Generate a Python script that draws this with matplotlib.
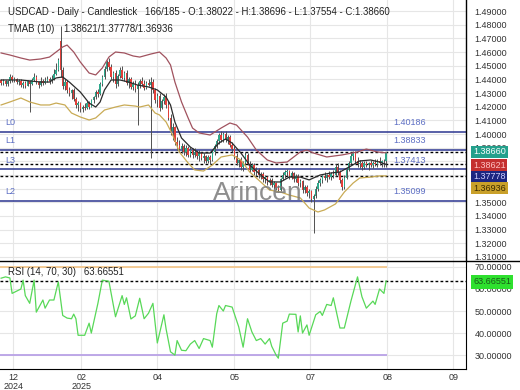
import numpy as np
import matplotlib.pyplot as plt
from matplotlib.lines import Line2D

plt.rcParams['font.family'] = ['Liberation Sans', 'DejaVu Sans']

# ---------------- data ----------------
o = [1.4395, 1.4372, 1.4390, 1.4368, 1.4385, 1.4418, 1.4395, 1.4405, 1.4378, 1.4392,
     1.4360, 1.4375, 1.4355, 1.4385, 1.4370, 1.4398, 1.4420, 1.4380, 1.4360, 1.4388,
     1.4372, 1.4390, 1.4405, 1.4385, 1.4400, 1.4440, 1.4470, 1.4680, 1.4470, 1.4350,
     1.4380, 1.4320, 1.4300, 1.4320, 1.4260, 1.4210, 1.4225, 1.4180, 1.4200, 1.4190,
     1.4230, 1.4200, 1.4250, 1.4270, 1.4310, 1.4290, 1.4370, 1.4415, 1.4480, 1.4530,
     1.4490, 1.4420, 1.4450, 1.4370, 1.4425, 1.4470, 1.4410, 1.4445, 1.4375, 1.4400,
     1.4345, 1.4370, 1.4330, 1.4360, 1.4385, 1.4370, 1.4340, 1.4375, 1.4360, 1.4380,
     1.4320, 1.4250, 1.4280, 1.4190, 1.4240, 1.4270, 1.4210, 1.4120, 1.4020, 1.4050,
     1.3940, 1.3920, 1.3890, 1.3910, 1.3870, 1.3900, 1.3850, 1.3880, 1.3845, 1.3870,
     1.3840, 1.3860, 1.3825, 1.3840, 1.3800, 1.3830, 1.3810, 1.3865, 1.3915, 1.3950,
     1.3990, 1.3960, 1.4000, 1.3955, 1.3975, 1.3920, 1.3890, 1.3840, 1.3790, 1.3810,
     1.3760, 1.3785, 1.3850, 1.3780, 1.3740, 1.3770, 1.3720, 1.3740, 1.3700, 1.3710,
     1.3670, 1.3685, 1.3650, 1.3665, 1.3630, 1.3640, 1.3605, 1.3590, 1.3670, 1.3700,
     1.3720, 1.3730, 1.3690, 1.3715, 1.3670, 1.3695, 1.3640, 1.3655, 1.3590, 1.3615,
     1.3565, 1.3580, 1.3525, 1.3545, 1.3600, 1.3645, 1.3660, 1.3690, 1.3680, 1.3700,
     1.3685, 1.3710, 1.3700, 1.3760, 1.3720, 1.3660, 1.3610, 1.3680, 1.3740, 1.3790,
     1.3840, 1.3860, 1.3800, 1.3780, 1.3790, 1.3760, 1.3785, 1.3770, 1.3785, 1.3775,
     1.3790, 1.3780, 1.3805, 1.3785, 1.3800, 1.38022]
h = [1.4405, 1.4402, 1.4398, 1.4395, 1.4440, 1.4430, 1.4418, 1.4412, 1.4405, 1.4400,
     1.4390, 1.4385, 1.4395, 1.4398, 1.4410, 1.4445, 1.4435, 1.4392, 1.4415, 1.4400,
     1.4418, 1.4425, 1.4415, 1.4430, 1.4475, 1.4520, 1.4560, 1.4793, 1.4490, 1.4400,
     1.4395, 1.4345, 1.4330, 1.4340, 1.4275, 1.4240, 1.4235, 1.4215, 1.4230, 1.4240,
     1.4245, 1.4260, 1.4280, 1.4320, 1.4330, 1.4380, 1.4430, 1.4500, 1.4545, 1.4555,
     1.4510, 1.4465, 1.4470, 1.4440, 1.4490, 1.4500, 1.4460, 1.4470, 1.4420, 1.4415,
     1.4390, 1.4395, 1.4380, 1.4400, 1.4420, 1.4395, 1.4390, 1.4405, 1.4415, 1.4400,
     1.4340, 1.4300, 1.4300, 1.4260, 1.4290, 1.4300, 1.4240, 1.4150, 1.4080, 1.4060,
     1.3975, 1.3960, 1.3935, 1.3930, 1.3920, 1.3915, 1.3905, 1.3895, 1.3900, 1.3885,
     1.3880, 1.3870, 1.3860, 1.3850, 1.3850, 1.3845, 1.3880, 1.3930, 1.3965, 1.4010,
     1.4021, 1.4015, 1.4020, 1.3990, 1.3990, 1.3945, 1.3910, 1.3860, 1.3820, 1.3830,
     1.3800, 1.3870, 1.3860, 1.3800, 1.3790, 1.3785, 1.3760, 1.3750, 1.3725, 1.3720,
     1.3700, 1.3695, 1.3680, 1.3675, 1.3655, 1.3650, 1.3625, 1.3680, 1.3720, 1.3740,
     1.3745, 1.3740, 1.3730, 1.3725, 1.3710, 1.3705, 1.3670, 1.3665, 1.3630, 1.3625,
     1.3600, 1.3590, 1.3560, 1.3620, 1.3660, 1.3680, 1.3700, 1.3720, 1.3710, 1.3730,
     1.3720, 1.3735, 1.3780, 1.3785, 1.3740, 1.3680, 1.3700, 1.3750, 1.3800, 1.3860,
     1.3874, 1.3875, 1.3830, 1.3810, 1.3805, 1.3800, 1.3800, 1.3795, 1.3810, 1.3800,
     1.3815, 1.3820, 1.3830, 1.3810, 1.3815, 1.38696]
l = [1.4360, 1.4362, 1.4355, 1.4350, 1.4375, 1.4380, 1.4378, 1.4365, 1.4360, 1.4345,
     1.4340, 1.4340, 1.4350, 1.4162, 1.4362, 1.4390, 1.4370, 1.4335, 1.4350, 1.4358,
     1.4365, 1.4378, 1.4370, 1.4375, 1.4395, 1.4430, 1.4460, 1.4420, 1.4330, 1.4320,
     1.4300, 1.4280, 1.4260, 1.4240, 1.4190, 1.4170, 1.4160, 1.4165, 1.4175, 1.4180,
     1.4185, 1.4195, 1.4225, 1.4255, 1.4270, 1.4285, 1.4350, 1.4400, 1.4460, 1.4470,
     1.4400, 1.4380, 1.4340, 1.4355, 1.4410, 1.4400, 1.4390, 1.4360, 1.4340, 1.4330,
     1.4320, 1.4310, 1.4066, 1.4340, 1.4350, 1.4320, 1.4330, 1.4350, 1.3825, 1.4300,
     1.4230, 1.4200, 1.4170, 1.4180, 1.4220, 1.4190, 1.4100, 1.3990, 1.3960, 1.3920,
     1.3880, 1.3870, 1.3860, 1.3850, 1.3840, 1.3830, 1.3835, 1.3825, 1.3830, 1.3820,
     1.3800, 1.3810, 1.3790, 1.3785, 1.3790, 1.3780, 1.3800, 1.3850, 1.3900, 1.3930,
     1.3940, 1.3945, 1.3940, 1.3930, 1.3905, 1.3870, 1.3820, 1.3770, 1.3760, 1.3740,
     1.3730, 1.3775, 1.3770, 1.3720, 1.3730, 1.3700, 1.3690, 1.3680, 1.3670, 1.3650,
     1.3640, 1.3630, 1.3625, 1.3610, 1.3600, 1.3590, 1.3575, 1.3585, 1.3660, 1.3680,
     1.3690, 1.3670, 1.3670, 1.3650, 1.3650, 1.3620, 1.3610, 1.3570, 1.3570, 1.3545,
     1.3530, 1.3505, 1.3275, 1.3530, 1.3585, 1.3620, 1.3640, 1.3660, 1.3650, 1.3670,
     1.3665, 1.3680, 1.3690, 1.3700, 1.3640, 1.3590, 1.3600, 1.3670, 1.3730, 1.3780,
     1.3810, 1.3790, 1.3760, 1.3750, 1.3740, 1.3745, 1.3755, 1.3740, 1.3760, 1.3750,
     1.3765, 1.3760, 1.3770, 1.3760, 1.3760, 1.37554]
c = [1.4372, 1.4390, 1.4368, 1.4385, 1.4418, 1.4395, 1.4405, 1.4378, 1.4392, 1.4360,
     1.4375, 1.4355, 1.4385, 1.4370, 1.4398, 1.4420, 1.4380, 1.4360, 1.4388, 1.4372,
     1.4390, 1.4405, 1.4385, 1.4400, 1.4440, 1.4470, 1.4540, 1.4470, 1.4350, 1.4380,
     1.4320, 1.4300, 1.4320, 1.4260, 1.4210, 1.4225, 1.4180, 1.4200, 1.4190, 1.4230,
     1.4200, 1.4250, 1.4270, 1.4310, 1.4290, 1.4370, 1.4415, 1.4480, 1.4530, 1.4490,
     1.4420, 1.4450, 1.4370, 1.4425, 1.4470, 1.4410, 1.4445, 1.4375, 1.4400, 1.4345,
     1.4370, 1.4330, 1.4360, 1.4385, 1.4370, 1.4340, 1.4375, 1.4360, 1.4380, 1.4320,
     1.4250, 1.4280, 1.4190, 1.4240, 1.4270, 1.4210, 1.4120, 1.4020, 1.4050, 1.3940,
     1.3920, 1.3890, 1.3910, 1.3870, 1.3900, 1.3850, 1.3880, 1.3845, 1.3870, 1.3840,
     1.3860, 1.3825, 1.3840, 1.3800, 1.3830, 1.3810, 1.3865, 1.3915, 1.3950, 1.3990,
     1.3960, 1.4000, 1.3955, 1.3975, 1.3920, 1.3890, 1.3840, 1.3790, 1.3810, 1.3760,
     1.3785, 1.3850, 1.3780, 1.3740, 1.3770, 1.3720, 1.3740, 1.3700, 1.3710, 1.3670,
     1.3685, 1.3650, 1.3665, 1.3630, 1.3640, 1.3605, 1.3590, 1.3670, 1.3700, 1.3720,
     1.3730, 1.3690, 1.3715, 1.3670, 1.3695, 1.3640, 1.3655, 1.3590, 1.3615, 1.3565,
     1.3580, 1.3525, 1.3545, 1.3600, 1.3645, 1.3660, 1.3690, 1.3680, 1.3700, 1.3685,
     1.3710, 1.3700, 1.3760, 1.3720, 1.3660, 1.3610, 1.3680, 1.3740, 1.3790, 1.3840,
     1.3860, 1.3800, 1.3780, 1.3790, 1.3760, 1.3785, 1.3770, 1.3785, 1.3775, 1.3790,
     1.3780, 1.3805, 1.3785, 1.3800, 1.3802, 1.38660]

# TMAB (10) bands
up_idx = [0, 4, 9, 13, 18, 22, 25, 28, 30, 33, 36, 40, 43, 46, 49, 52, 56, 60, 63, 68,
          72, 75, 77, 79, 82, 85, 87, 90, 95, 100, 104, 107, 112, 116, 121, 125, 130, 133,
          136, 139, 142, 148, 155, 162, 166, 171, 175]
up_val = [1.4594, 1.4579, 1.4557, 1.4542, 1.4550, 1.4564, 1.4601, 1.4638, 1.4652, 1.4601,
          1.4528, 1.4447, 1.4433, 1.4484, 1.4564, 1.4601, 1.4594, 1.4572, 1.4564, 1.4586,
          1.4601, 1.4557, 1.4506, 1.4381, 1.4235, 1.4118, 1.4044, 1.4008, 1.3993, 1.4044,
          1.4081, 1.4066, 1.3978, 1.3883, 1.3810, 1.3788, 1.3795, 1.3832, 1.3869, 1.3883,
          1.3861, 1.3832, 1.3847, 1.3869, 1.3890, 1.3869, 1.38621]
mid_idx = [0, 9, 18, 22, 25, 28, 31, 36, 40, 43, 45, 47, 50, 54, 58, 62, 67, 71, 75, 77,
           79, 82, 86, 88, 90, 95, 99, 102, 105, 109, 113, 118, 122, 127, 131, 136, 140,
           145, 150, 154, 159, 163, 168, 172, 175]
mid_val = [1.4396, 1.4396, 1.4381, 1.4381, 1.4411, 1.4418, 1.4381, 1.4308, 1.4227, 1.4198,
           1.4235, 1.4323, 1.4396, 1.4396, 1.4381, 1.4359, 1.4345, 1.4323, 1.4271, 1.4213,
           1.4088, 1.3971, 1.3905, 1.3883, 1.3861, 1.3861, 1.3934, 1.3964, 1.3934, 1.3861,
           1.3773, 1.3700, 1.3649, 1.3649, 1.3685, 1.3685, 1.3664, 1.3700, 1.3715, 1.3722,
           1.3766, 1.3803, 1.3810, 1.3795, 1.37778]
low_idx = [0, 4, 9, 13, 18, 22, 25, 29, 32, 36, 40, 43, 47, 52, 56, 61, 63, 67, 70, 72,
           75, 78, 81, 85, 88, 92, 96, 100, 105, 109, 113, 118, 122, 127, 131, 136, 140,
           144, 147, 152, 156, 160, 163, 168, 172, 175]
low_val = [1.4213, 1.4235, 1.4264, 1.4235, 1.4213, 1.4213, 1.4227, 1.4213, 1.4154, 1.4125,
           1.4103, 1.4118, 1.4176, 1.4198, 1.4213, 1.4205, 1.4198, 1.4213, 1.4154, 1.4140,
           1.4088, 1.3993, 1.3869, 1.3788, 1.3737, 1.3729, 1.3773, 1.3832, 1.3847, 1.3810,
           1.3722, 1.3649, 1.3590, 1.3575, 1.3553, 1.3532, 1.3458, 1.3429, 1.3444, 1.3488,
           1.3575, 1.3641, 1.3678, 1.3685, 1.3693, 1.36936]

# RSI (14)
rsi_idx = [0, 2, 4, 5, 9, 10, 11, 13, 15, 16, 19, 20, 22, 24, 26, 28, 30, 32, 33, 34,
           35, 38, 40, 41, 44, 46, 49, 52, 55, 56, 57, 59, 61, 63, 65, 67, 69, 71, 74, 75,
           77, 79, 80, 82, 84, 86, 88, 90, 92, 95, 96, 98, 99, 101, 102, 105, 108, 110, 112,
           114, 116, 118, 120, 122, 123, 125, 126, 128, 130, 131, 134, 135, 136, 137, 139,
           140, 143, 145, 146, 148, 150, 151, 154, 156, 159, 162, 164, 166, 169, 170, 172,
           174, 175]
rsi_val = [64.9, 65.5, 65, 58, 60, 64, 57, 53.5, 64, 49.5, 55, 51.3, 55, 55, 63.2, 48,
           46.8, 46.5, 48.6, 46.5, 39, 39, 44.5, 40, 53.5, 64, 63.5, 47.4, 57, 53, 56, 46.4,
           47.8, 55.8, 46.5, 49, 53.5, 35.5, 48.3, 41.8, 31.5, 30, 36.6, 32.2, 32, 35, 36.6,
           33, 37.5, 36.6, 33.6, 48.8, 52.5, 50, 52.5, 51.8, 42.8, 33.6, 46.5, 40.5, 36.6,
           37.5, 35, 37.5, 34, 30, 28.6, 44.5, 45.4, 48.6, 48.5, 40.5, 47.8, 40, 43.7, 39,
           48.3, 49.8, 48, 53, 52.5, 56, 42.3, 42.3, 54.5, 65.5, 56.5, 51.3, 54.5, 53, 60,
           58, 63.66551]

level_names = ['L0', 'L1', 'L3', 'L2']
level_vals = [1.40186, 1.38833, 1.37413, 1.35099]

price_ticks = [1.31, 1.32, 1.33, 1.34, 1.35, 1.39, 1.40, 1.41, 1.42, 1.43, 1.44,
               1.45, 1.46, 1.47, 1.48, 1.49]
grid_prices = [1.31, 1.32, 1.33, 1.34, 1.35, 1.36, 1.37, 1.38, 1.39, 1.40, 1.41,
               1.42, 1.43, 1.44, 1.45, 1.46, 1.47, 1.48, 1.49]
rsi_ticks = [30, 40, 50, 60, 70]

xtick_idx = [5.5, 36.5, 71, 106, 140.5, 175.5, 205.5]
xtick_lab = ['12\n2024', '02\n2025', '04', '05', '07', '08', '09']

# ---------------- figure ----------------
W, H = 520, 390
fig = plt.figure(figsize=(5.2, 3.9), dpi=100)
ax = fig.add_axes([0, 1 - 261 / H, 466 / W, 261 / H])
ax2 = fig.add_axes([0, 1 - 369 / H, 466 / W, 108 / H])

fs = 6.5
grid_c = '#e6e6e6'

o, h, l, c = map(np.asarray, (o, h, l, c))
x = np.arange(len(c))
green, red = '#2ea98c', '#e2403a'
cols = np.where(c >= o, green, red)

ax.vlines(x, l, h, color='#505050', lw=0.7, zorder=3)
ax.bar(x, np.maximum(np.abs(c - o), 0.0003), bottom=np.minimum(o, c), width=0.7,
       color=cols, linewidth=0, zorder=4)

ax.plot(up_idx, up_val, color='#a0525e', lw=0.9, zorder=5)
ax.plot(mid_idx, mid_val, color='#2b2b2b', lw=0.9, zorder=5)
ax.plot(low_idx, low_val, color='#c9ab55', lw=0.9, zorder=5)

# level lines
for name, v in zip(level_names, level_vals):
    ax.axhline(v, color='#2b3590', lw=1.1, zorder=2)
    ax.annotate(name, xy=(0.012, v), xycoords=('axes fraction', 'data'),
                xytext=(0, 3.5), textcoords='offset points', va='bottom',
                fontsize=fs, color='#5d6fc4')
    ax.annotate('%.5f' % v, xy=(393 / 466, v), xycoords=('axes fraction', 'data'),
                xytext=(0, 3.5), textcoords='offset points', va='bottom',
                fontsize=fs, color='#5d6fc4', zorder=6)

for v in (c[-1], mid_val[-1], low_val[-1]):
    ax.axhline(v, color='k', lw=1.0, ls=(0, (2, 1.6)), zorder=2)

for g in grid_prices:
    ax.axhline(g, color=grid_c, lw=0.8, zorder=0)

ax.set_xlim(-0.5, 211.3)
ax.set_ylim(1.3070, 1.4982)
# labels hidden by the price tags are left out
ax.set_yticks(price_ticks)
ax.yaxis.set_major_formatter(plt.FormatStrFormatter('%.5f'))
ax.yaxis.tick_right()
ax.tick_params(axis='y', length=0, pad=6, labelsize=fs, colors='#333333')
ax.set_xticks(xtick_idx)
ax.tick_params(axis='x', length=0, labelbottom=False)
ax.grid(True, axis='x', color=grid_c, lw=0.8)
ax.set_axisbelow(True)
for s in ('top', 'left', 'bottom'):
    ax.spines[s].set_visible(False)
ax.spines['right'].set_linewidth(1.0)

# RSI panel
ax2.plot(rsi_idx, rsi_val, color='#58d858', lw=0.9, zorder=4)
ax2.hlines(70, -0.5, x[-1] + 0.5, color='#f4c88e', lw=1.3, zorder=3)
ax2.hlines(30, -0.5, x[-1] + 0.5, color='#b9a2e6', lw=1.3, zorder=3)
ax2.axhline(rsi_val[-1], color='k', lw=1.0, ls=(0, (2, 1.6)), zorder=3)
ax2.set_xlim(-0.5, 211.3)
ax2.set_ylim(23.7, 72.7)
ax2.set_yticks(rsi_ticks)
ax2.yaxis.set_major_formatter(plt.FormatStrFormatter('%.5f'))
ax2.yaxis.tick_right()
ax2.tick_params(axis='y', length=0, pad=6, labelsize=fs, colors='#333333')
ax2.set_xticks(xtick_idx, xtick_lab)
ax2.tick_params(axis='x', length=0, pad=3, labelsize=fs, colors='#333333')
for t in ax2.get_xticklabels():
    t.set_linespacing(0.95)
ax2.grid(True, color=grid_c, lw=0.8)
ax2.set_axisbelow(True)
for s in ('top', 'left'):
    ax2.spines[s].set_visible(False)

fig.add_artist(Line2D([0, 1], [1 - 261 / H] * 2, color='k', lw=1.0,
                      transform=fig.transFigure))

# header texts
tc = '#222222'
fig.text(8 / W, 1 - 12 / H, 'USDCAD - Daily - Candlestick', fontsize=6.9, va='center', color=tc)
fig.text(145 / W, 1 - 12 / H,
         '166/185 - O:%.5f - H:%.5f - L:%.5f - C:%.5f' % (o[-1], h[-1], l[-1], c[-1]),
         fontsize=6.9, va='center', color=tc)
fig.text(8 / W, 1 - 29 / H, 'TMAB (10)', fontsize=6.9, va='center', color=tc)
fig.text(63 / W, 1 - 29 / H, '%.5f/%.5f/%.5f' % (up_val[-1], mid_val[-1], low_val[-1]),
         fontsize=6.9, va='center', color=tc)
fig.text(8 / W, 1 - 272 / H, 'RSI (14, 70, 30)   %.5f' % rsi_val[-1], fontsize=6.9,
         va='center', color=tc)

# watermark
fig.text(213 / W, 1 - 193 / H, 'Arincen', fontsize=19, color='#7a7a7a', alpha=0.85,
         va='center')

# price tags on the right
tags = [(c[-1], '#24a08c', 'white', 152),
        (up_val[-1], '#c42f2f', '#ffc4c4', 165),
        (mid_val[-1], '#1c2580', '#d0d0ff', 177),
        (low_val[-1], '#c9a02a', '#3a2a00', 188)]
for v, fc, tcol, ypx in tags:
    fig.text(473 / W, 1 - ypx / H, '%.5f' % v, fontsize=fs, color=tcol, va='center',
             bbox=dict(boxstyle='square,pad=0.2', fc=fc, ec='none'))
fig.text(473 / W, 1 - 282 / H, '%.5f' % rsi_val[-1], fontsize=fs, color='#1a5a1a',
         va='center', bbox=dict(boxstyle='square,pad=0.25', fc='#2ee02e', ec='none'))

fig.savefig('out.png', dpi=100)
